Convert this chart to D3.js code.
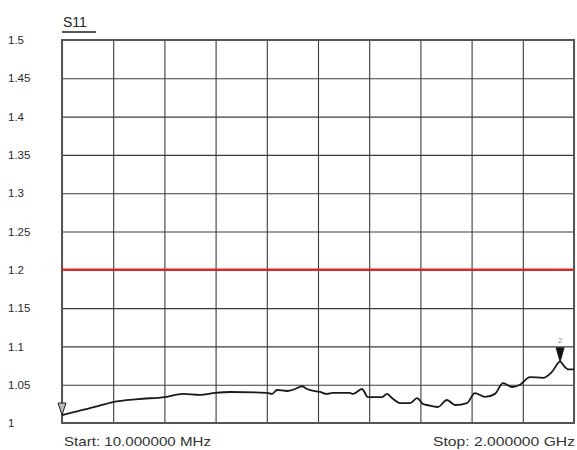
<!DOCTYPE html>
<html>
<head>
<meta charset="utf-8">
<script src="https://cdn.jsdelivr.net/npm/d3@7/dist/d3.min.js"></script>
<style>
  html, body { margin: 0; padding: 0; background: #fff; }
  svg { display: block; font-family: Arial, "Liberation Sans", sans-serif; }
</style>
</head>
<body>
<svg id="chart" width="577" height="450"></svg>
<script>
// ---- data ----
const freqMHz = [10, 60, 138, 208, 305, 410, 480, 546, 605, 663, 807, 826, 846, 885, 916, 943, 962,
  1013, 1040, 1063, 1129, 1141, 1176, 1199, 1254, 1273, 1297, 1324, 1363, 1390, 1413, 1429, 1471,
  1506, 1538, 1584, 1615, 1654, 1693, 1724, 1759, 1790, 1829, 1880, 1915, 1946, 1965, 1977, 2000];
const s11 = [1.0104, 1.0144, 1.0209, 1.0274, 1.0313, 1.0339, 1.0379, 1.0366, 1.0392, 1.0405, 1.0392,
  1.0379, 1.0431, 1.0418, 1.0444, 1.048, 1.0444, 1.0405, 1.0379, 1.0392, 1.0392, 1.0379, 1.0444,
  1.0339, 1.0339, 1.0379, 1.0313, 1.026, 1.026, 1.0326, 1.0248, 1.0235, 1.0209, 1.030, 1.0235,
  1.026, 1.039, 1.034, 1.038, 1.052, 1.047, 1.050, 1.060, 1.059, 1.067, 1.080, 1.073, 1.070, 1.070];
const yTicks = [1, 1.05, 1.1, 1.15, 1.2, 1.25, 1.3, 1.35, 1.4, 1.45, 1.5];
const yTickLabels = ["1", "1.05", "1.1", "1.15", "1.2", "1.25", "1.3", "1.35", "1.4", "1.45", "1.5"];
const limitValue = [1.2];
const markerIndex = [0, 45];
const markerLabels = ["1", "2"];
const title = "S11";
const startLabel = "Start: 10.000000 MHz";
const stopLabel = "Stop: 2.000000 GHz";
const xDomain = [10, 2000];
const yDomain = [1, 1.5];
const xDivisions = 10;

// ---- layout ----
const svg = d3.select("#chart");
const L = 62, R = 574, T = 40, B = 423;
const x = d3.scaleLinear().domain(xDomain).range([L, R]);
const y = d3.scaleLinear().domain(yDomain).range([B, T]);

// grid
const xGrid = d3.range(xDivisions + 1).map(i => xDomain[0] + (xDomain[1] - xDomain[0]) * i / xDivisions);
svg.append("g")
  .attr("transform", `translate(0,${B})`)
  .call(d3.axisBottom(x).tickValues(xGrid).tickSize(-(B - T)).tickFormat(""))
  .call(g => g.select(".domain").remove())
  .call(g => g.selectAll("line").attr("stroke", "#3c3c3c").attr("stroke-width", 1.1));

svg.append("g")
  .attr("transform", `translate(${L},0)`)
  .call(d3.axisLeft(y).tickValues(yTicks).tickSize(-(R - L)).tickFormat(""))
  .call(g => g.select(".domain").remove())
  .call(g => g.selectAll("line").attr("stroke", "#3c3c3c").attr("stroke-width", 1.1));

// frame
svg.append("rect")
  .attr("x", L).attr("y", T).attr("width", R - L).attr("height", B - T)
  .attr("fill", "none").attr("stroke", "#555").attr("stroke-width", 2);

// y labels
svg.append("g").selectAll("text")
  .data(yTicks)
  .join("text")
  .attr("x", 8)
  .attr("y", d => y(d))
  .attr("dy", "0.36em")
  .attr("font-size", 11.5)
  .attr("fill", "#2a2a2a")
  .text((d, i) => yTickLabels[i]);

// limit line
svg.append("line")
  .attr("x1", L).attr("x2", R)
  .attr("y1", y(limitValue[0])).attr("y2", y(limitValue[0]))
  .attr("stroke", "#d42a2a").attr("stroke-width", 2.5);

// trace
const pts = freqMHz.map((f, i) => [f, s11[i]]);
svg.append("path")
  .datum(pts)
  .attr("fill", "none")
  .attr("stroke", "#1a1a1a")
  .attr("stroke-width", 1.8)
  .attr("stroke-linejoin", "round")
  .attr("d", d3.line().curve(d3.curveMonotoneX).x(d => x(d[0])).y(d => y(d[1])));

// markers
markerIndex.forEach((idx, k) => {
  const px = x(freqMHz[idx]), py = y(s11[idx]);
  const h = k === 0 ? 12 : 14, w = 4;
  svg.append("path")
    .attr("d", `M${px - w},${py - h} L${px + w},${py - h} L${px},${py} Z`)
    .attr("fill", k === 0 ? "#bbb" : "#111")
    .attr("stroke", "#222").attr("stroke-width", 1);
  if (k === 1) {
    svg.append("text")
      .attr("x", px).attr("y", py - h - 5)
      .attr("text-anchor", "middle")
      .attr("font-size", 7)
      .attr("fill", "#888")
      .text(markerLabels[k]);
  }
});

// title
svg.append("text")
  .attr("x", 63).attr("y", 27)
  .attr("font-size", 14)
  .attr("fill", "#222")
  .text(title);
svg.append("line")
  .attr("x1", 62).attr("x2", 96).attr("y1", 32).attr("y2", 32)
  .attr("stroke", "#222").attr("stroke-width", 1.5);

// start/stop
svg.append("text")
  .attr("x", 64).attr("y", 446)
  .attr("font-size", 13)
  .attr("fill", "#333")
  .attr("textLength", 147)
  .attr("lengthAdjust", "spacingAndGlyphs")
  .text(startLabel);
svg.append("text")
  .attr("x", 433).attr("y", 446)
  .attr("font-size", 13)
  .attr("fill", "#333")
  .attr("textLength", 142)
  .attr("lengthAdjust", "spacingAndGlyphs")
  .text(stopLabel);
</script>
</body>
</html>
